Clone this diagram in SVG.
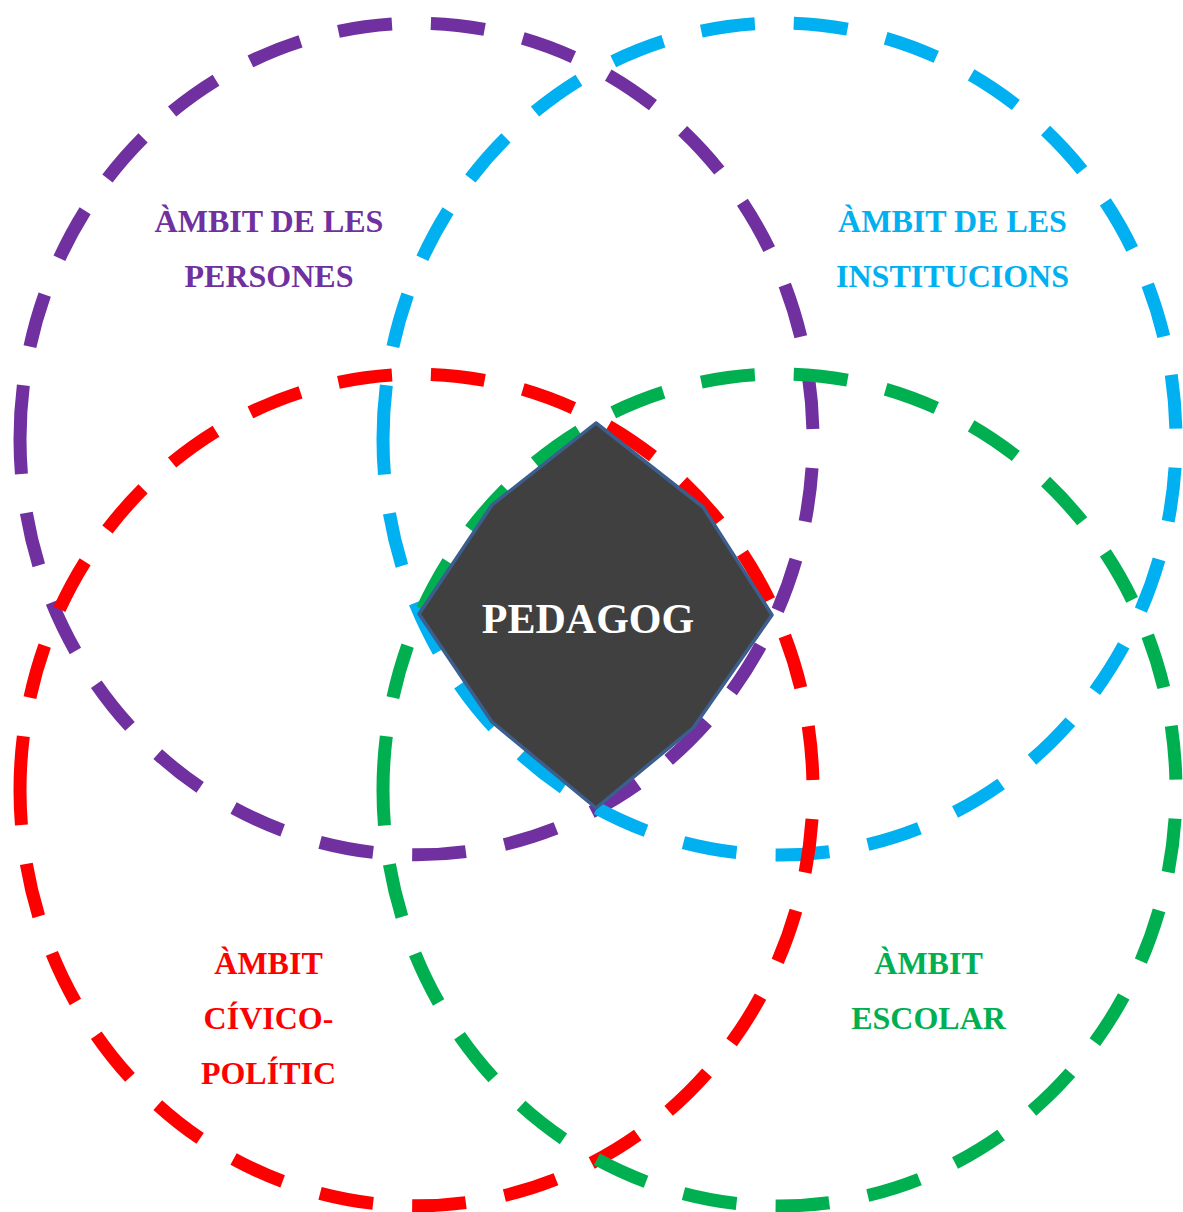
<svg xmlns="http://www.w3.org/2000/svg" width="1183" height="1212" viewBox="0 0 1183 1212">
  <style>
    .ring { fill: none; stroke-width: 13; stroke-dasharray: 54 39.2; stroke-linecap: butt; }
    .lbl { font-family: "Liberation Serif", "Times New Roman", serif; font-weight: bold; font-size: 32px; text-anchor: middle; }
    .core { fill: #404040; stroke: #3B5E8C; stroke-width: 3.5; stroke-linejoin: round; }
    .coretext { font-family: "Liberation Serif", "Times New Roman", serif; font-weight: bold; font-size: 42px; text-anchor: middle; fill: #FFFFFF; }
  </style>
  <rect width="1183" height="1212" fill="#FFFFFF"/>
  <g id="ambit-persones">
    <path class="ring" stroke="#7030A0" d="M 20,439 A 396.5,416 0 0 1 813,439 A 396.5,416 0 0 1 20,439 Z"/>
    <text class="lbl" fill="#7030A0" x="269" y="232">ÀMBIT DE LES</text>
    <text class="lbl" fill="#7030A0" x="269" y="287">PERSONES</text>
  </g>
  <g id="ambit-institucions">
    <path class="ring" stroke="#00B0F0" d="M 383,439 A 396.5,416 0 0 1 1176,439 A 396.5,416 0 0 1 383,439 Z"/>
    <text class="lbl" fill="#00B0F0" x="952.5" y="232">ÀMBIT DE LES</text>
    <text class="lbl" fill="#00B0F0" x="952.5" y="287">INSTITUCIONS</text>
  </g>
  <g id="ambit-civico-politic">
    <path class="ring" stroke="#FF0000" d="M 20,790 A 396.5,416 0 0 1 813,790 A 396.5,416 0 0 1 20,790 Z"/>
    <text class="lbl" fill="#FF0000" x="268.5" y="974">ÀMBIT</text>
    <text class="lbl" fill="#FF0000" x="268.5" y="1029">CÍVICO-</text>
    <text class="lbl" fill="#FF0000" x="268.5" y="1084">POLÍTIC</text>
  </g>
  <g id="ambit-escolar">
    <path class="ring" stroke="#00B050" d="M 383,790 A 396.5,416 0 0 1 1176,790 A 396.5,416 0 0 1 383,790 Z"/>
    <text class="lbl" fill="#00B050" x="928.5" y="974">ÀMBIT</text>
    <text class="lbl" fill="#00B050" x="928.5" y="1029">ESCOLAR</text>
  </g>
  <g id="connectors"></g>
  <g id="pedagog">
    <polygon class="core" points="596,423 703,507 772,615 693,728 596,808 492,722 419,614 492,505"/>
    <text class="coretext" x="588" y="633">PEDAGOG</text>
  </g>
</svg>
